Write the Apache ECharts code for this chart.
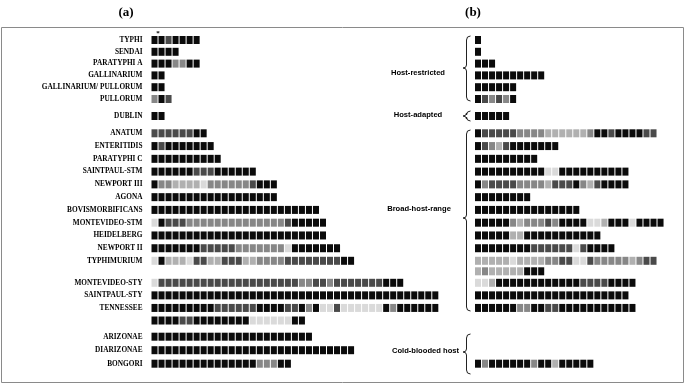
<!DOCTYPE html>
<html>
<head>
<meta charset="utf-8">
<script src="https://cdn.jsdelivr.net/npm/echarts@6/dist/echarts.min.js"></script>
<style>
  html, body { margin: 0; padding: 0; background: #fff; }
  #chart { width: 685px; height: 383px; }
</style>
</head>
<body>
<div id="chart"></div>
<script>
// serovar row labels, panel (a); '' = continuation line of the row above
const labelsA = ['TYPHI', 'SENDAI', 'PARATYPHI A', 'GALLINARIUM', 'GALLINARIUM/ PULLORUM', 'PULLORUM',
  'DUBLIN',
  'ANATUM', 'ENTERITIDIS', 'PARATYPHI C', 'SAINTPAUL-STM', 'NEWPORT III', 'AGONA', 'BOVISMORBIFICANS',
  'MONTEVIDEO-STM', 'HEIDELBERG', 'NEWPORT II',
  'TYPHIMURIUM',
  'MONTEVIDEO-STY', 'SAINTPAUL-STY', 'TENNESSEE', '',
  'ARIZONAE', 'DIARIZONAE', 'BONGORI']

// one digit per cell: 0 black .. 4 very light grey
const cellsA = [
  '0010000', '0000', '0002200', '00', '00', '201',
  '00',
  '11111100', '010000000', '0000000000', '000000111000000', '022333342222221000',
  '000000000000000000', '000000000000000000000000', '4011122222222222222100000',
  '0000000000000000000000000', '000000011111222222240000000',
  '40333411331113322221111111100',
  '411111111111111111111221121111111000',
  '00000000000000000000000000000000000000000',
  '00000000011111100001102044144444402000000',
  '0000110000000044444400',
  '00000000000000000000000', '00000000000000000000000000000', '00000000000000022200'
]

// panel (b), same serovar order; Typhimurium wraps onto a second line
const cellsB = [
  '0', '0', '000', '0000000000', '000000', '012120',
  '00000',
  '01111122223333332001000011', '012310000000', '000000000', '0000000000440000000000',
  '0211112222311102310000', '00000000', '000000000000000', '000002322212000044300040000',
  '000003300000000000', '00000000111111410000',
  '33333433332211441222223211', '3233333000',
  '44300000000000011110000', '0000000000000000000000', '00000022001100000000000',
  '', '', '02000000200300000'
]

// lines per row group
const groupSizesA = [6, 1, 10, 1, 4, 3]
const groupSizesB = [6, 1, 10, 2, 3, 3]

const hostGroups = ['Host-restricted', 'Host-adapted', 'Broad-host-range', 'Cold-blooded host']

const shades = ['#0b0b0b', '#4a4a4a', '#878787', '#b0b0b0', '#dadada']

// layout of each row group: centre of first line and line pitch (px)
const bands = [
  { c0: 40, pitch: 11.8 },
  { c0: 116, pitch: 12 },
  { c0: 133.3, pitch: 12.77 },
  { c0: 260.8, pitch: 10.5 },
  { c0: 282.8, pitch: 12.57 },
  { c0: 336.7, pitch: 13.5 }
]
const cellW = 7.02

const panels = [
  { left: 151.5, cols: 41, sizes: groupSizesA, cells: cellsA, labels: labelsA, showLabels: true },
  { left: 475, cols: 27, sizes: groupSizesB, cells: cellsB, labels: null, showLabels: false }
]

const chart = echarts.init(document.getElementById('chart'))

const grid = [], xAxis = [], yAxis = [], series = []

panels.forEach(p => {
  let line = 0
  p.sizes.forEach((n, g) => {
    const b = bands[g]
    const idx = grid.length
    grid.push({
      left: p.left,
      top: b.c0 - b.pitch / 2,
      width: p.cols * cellW,
      height: n * b.pitch
    })
    xAxis.push({ type: 'value', gridIndex: idx, min: 0, max: p.cols, show: false })
    const cats = []
    const data = []
    for (let r = 0; r < n; r++) {
      cats.push(p.labels ? p.labels[line + r] : String(line + r))
      const s = p.cells[line + r]
      for (let c = 0; c < s.length; c++) {
        data.push([c, r, Number(s[c])])
      }
    }
    yAxis.push({
      type: 'category',
      gridIndex: idx,
      inverse: true,
      data: cats,
      axisLine: { show: false },
      axisTick: { show: false },
      splitLine: { show: false },
      axisLabel: {
        show: p.showLabels,
        interval: 0,
        margin: 9,
        fontSize: 7.3,
        fontWeight: 'bold',
        fontFamily: 'Liberation Serif',
        color: '#000'
      }
    })
    series.push({
      type: 'custom',
      xAxisIndex: idx,
      yAxisIndex: idx,
      encode: { x: 0, y: 1 },
      silent: true,
      data: data,
      renderItem: (params, api) => {
        const a = api.coord([api.value(0), api.value(1)])
        const e = api.coord([api.value(0) + 1, api.value(1)])
        return {
          type: 'rect',
          shape: { x: a[0], y: a[1] - 4, width: e[0] - a[0] - 1, height: 8 },
          style: { fill: shades[api.value(2)] }
        }
      }
    })
    line += n
  })
})

// curly brace made of curves and lines
const brace = (x, top, mid, bottom) => {
  const st = { stroke: '#222', lineWidth: 1, fill: null }
  return [
    { type: 'bezierCurve', shape: { x1: x + 4, y1: top, cpx1: x, cpy1: top, x2: x, y2: top + 4 }, style: st },
    { type: 'line', shape: { x1: x, y1: top + 4, x2: x, y2: mid - 3 }, style: st },
    { type: 'bezierCurve', shape: { x1: x, y1: mid - 3, cpx1: x, cpy1: mid, x2: x - 3.5, y2: mid }, style: st },
    { type: 'bezierCurve', shape: { x1: x - 3.5, y1: mid, cpx1: x, cpy1: mid, x2: x, y2: mid + 3 }, style: st },
    { type: 'line', shape: { x1: x, y1: mid + 3, x2: x, y2: bottom - 4 }, style: st },
    { type: 'bezierCurve', shape: { x1: x, y1: bottom - 4, cpx1: x, cpy1: bottom, x2: x + 4, y2: bottom }, style: st }
  ]
}

const hostText = (t, x, y) => ({
  type: 'text',
  style: {
    text: t, x: x, y: y, textAlign: 'center', textVerticalAlign: 'middle',
    font: 'bold 7.6px "Liberation Sans"', fill: '#000'
  }
})

const titleText = (t, x) => ({
  type: 'text',
  style: {
    text: t, x: x, y: 13, textAlign: 'center', textVerticalAlign: 'middle',
    font: 'bold 13px "Liberation Serif"', fill: '#000'
  }
})

const graphic = [
  {
    type: 'rect',
    shape: { x: 1.5, y: 27.5, width: 682, height: 355 },
    style: { fill: null, stroke: '#8a8a8a', lineWidth: 1 }
  },
  titleText('(a)', 126),
  titleText('(b)', 473),
  {
    type: 'text',
    style: { text: '*', x: 158, y: 33, textAlign: 'center', textVerticalAlign: 'middle', font: 'bold 7px "Liberation Serif"', fill: '#000' }
  },
  hostText(hostGroups[0], 418, 73),
  hostText(hostGroups[1], 418, 115),
  hostText(hostGroups[2], 419, 209),
  hostText(hostGroups[3], 425.5, 351),
  ...brace(466.5, 36, 68, 101),
  ...brace(466.5, 111, 116, 121),
  ...brace(466.5, 130, 218, 311),
  ...brace(466.5, 334, 352, 374)
]

chart.setOption({
  backgroundColor: '#fff',
  animation: false,
  grid: grid,
  xAxis: xAxis,
  yAxis: yAxis,
  series: series,
  graphic: graphic
})

window.addEventListener('resize', () => chart.resize())
</script>
</body>
</html>
